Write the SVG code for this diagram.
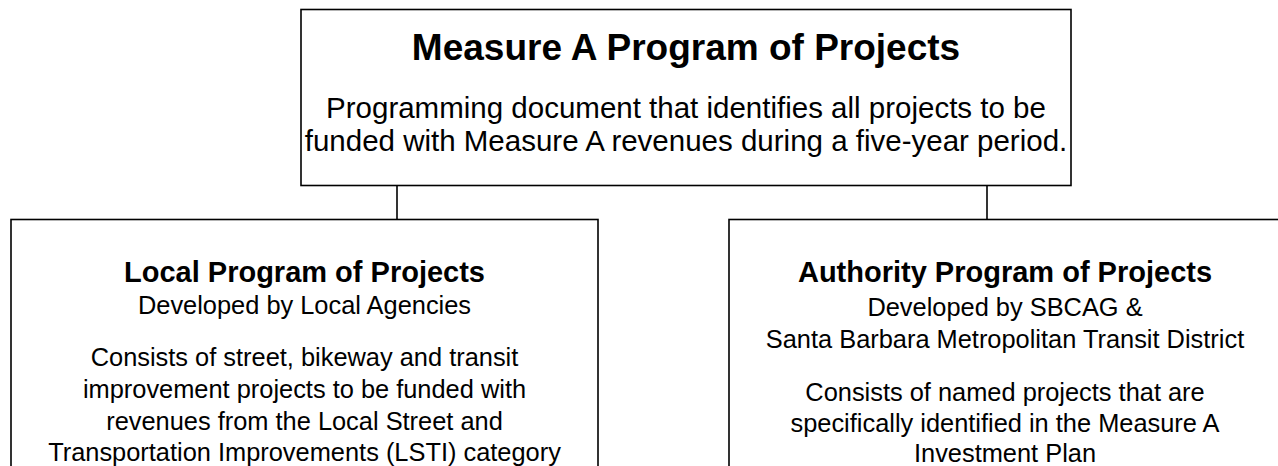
<svg xmlns="http://www.w3.org/2000/svg" width="1278" height="466" viewBox="0 0 1278 466">
<style>
  .box { fill: #ffffff; stroke: #000000; stroke-width: 1.6; }
  .conn { stroke: #000000; stroke-width: 1.6; fill: none; }
  text { font-family: "Liberation Sans", Arial, sans-serif; fill: #000000; text-anchor: middle; }
  .title { font-size: 37px; font-weight: bold; }
  .head { font-size: 29px; font-weight: bold; }
  .topbody { font-size: 29.5px; }
  .body { font-size: 25.4px; }
</style>
<rect width="1278" height="466" fill="#ffffff"/>
<g id="connectors">
  <line class="conn" x1="397" y1="185.5" x2="397" y2="219.5"/>
  <line class="conn" x1="987" y1="185.5" x2="987" y2="219.5"/>
</g>
<g id="node-measure-a">
  <rect class="box" x="301" y="9.5" width="770" height="176"/>
  <text class="title" x="686" y="60">Measure A Program of Projects</text>
  <text class="topbody" x="686" y="118">Programming document that identifies all projects to be</text>
  <text class="topbody" x="686" y="151">funded with Measure A revenues during a five-year period.</text>
</g>
<g id="node-local">
  <rect class="box" x="11" y="219.5" width="587" height="270"/>
  <text class="head" x="304.5" y="282">Local Program of Projects</text>
  <text class="body" x="304.5" y="314">Developed by Local Agencies</text>
  <text class="body" x="304.5" y="366">Consists of street, bikeway and transit</text>
  <text class="body" x="304.5" y="398">improvement projects to be funded with</text>
  <text class="body" x="304.5" y="430">revenues from the Local Street and</text>
  <text class="body" x="304.5" y="461">Transportation Improvements (LSTI) category</text>
</g>
<g id="node-authority">
  <rect class="box" x="729" y="219.5" width="560" height="270"/>
  <text class="head" x="1005" y="282">Authority Program of Projects</text>
  <text class="body" x="1005" y="316">Developed by SBCAG &amp;</text>
  <text class="body" x="1005" y="348">Santa Barbara Metropolitan Transit District</text>
  <text class="body" x="1005" y="401">Consists of named projects that are</text>
  <text class="body" x="1005" y="432">specifically identified in the Measure A</text>
  <text class="body" x="1005" y="462">Investment Plan</text>
</g>
</svg>
